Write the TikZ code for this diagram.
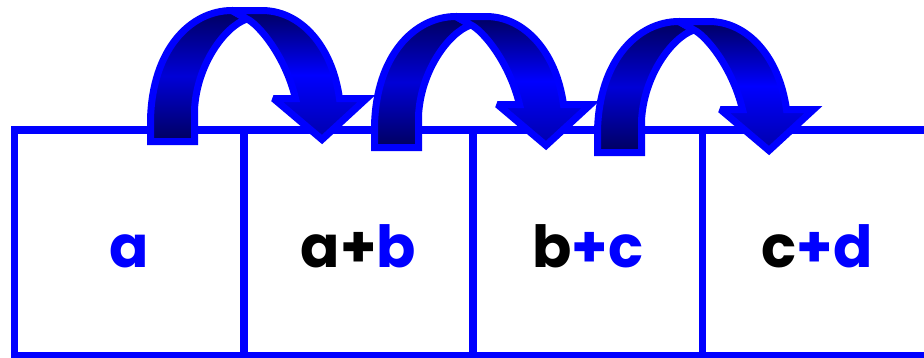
\documentclass[tikz,border=0pt]{standalone}
\usepackage{fontspec}
\setmainfont{Poppins}
\definecolor{myblue}{RGB}{0,0,255}
\definecolor{navyA}{RGB}{0,0,95}
\definecolor{midA}{RGB}{0,0,215}
\definecolor{botB}{RGB}{0,0,170}
\tikzset{
  cell/.style={draw=myblue, line width=7.5pt, minimum width=229.3pt, minimum height=226pt,
    inner sep=0pt, text height=48pt, text depth=0pt,
    font=\fontsize{58}{60}\selectfont\bfseries},
  arrowpart/.style={draw=myblue, line width=7pt, miter limit=2.9},
  pics/curvarrow/.style={code={
    \draw[arrowpart, top color=navyA, bottom color=navyA, middle color=midA]
      (150.5,141.5) -- (150.5,120) .. controls (152,50) and (190,10.5) .. (232,10.5)
      -- (247,19) .. controls (225,26) and (196.5,65) .. (194.5,110) -- (194.5,141.5) -- cycle;
    \draw[arrowpart, top color=navyA, bottom color=botB, middle color=myblue]
      (232,10.5) -- (262,10.5) .. controls (300,10.5) and (332,45) .. (339.5,98.5)
      -- (366.5,98.5) -- (322,139.5) -- (273.5,98.5) -- (295.5,98.5)
      .. controls (285,55) and (258,24) .. (247,19) -- cycle;
  }}
}
\begin{document}
\begin{tikzpicture}[x=1pt,y=-1pt]
\useasboundingbox (0,0) rectangle (924,357);
\node[cell] (c1) at (129.15,243) {\color{myblue}a};
\node[cell] (c2) at (358.45,243) {a+\color{myblue}b};
\node[cell] (c3) at (587.75,243) {b\color{myblue}+c};
\node[cell] (c4) at (817.05,243) {c\color{myblue}+d};
\pic (a1) at (0,0) {curvarrow};
\pic (a2) at (224,6) {curvarrow};
\pic (a3) at (447,11) {curvarrow};
\end{tikzpicture}
\end{document}
